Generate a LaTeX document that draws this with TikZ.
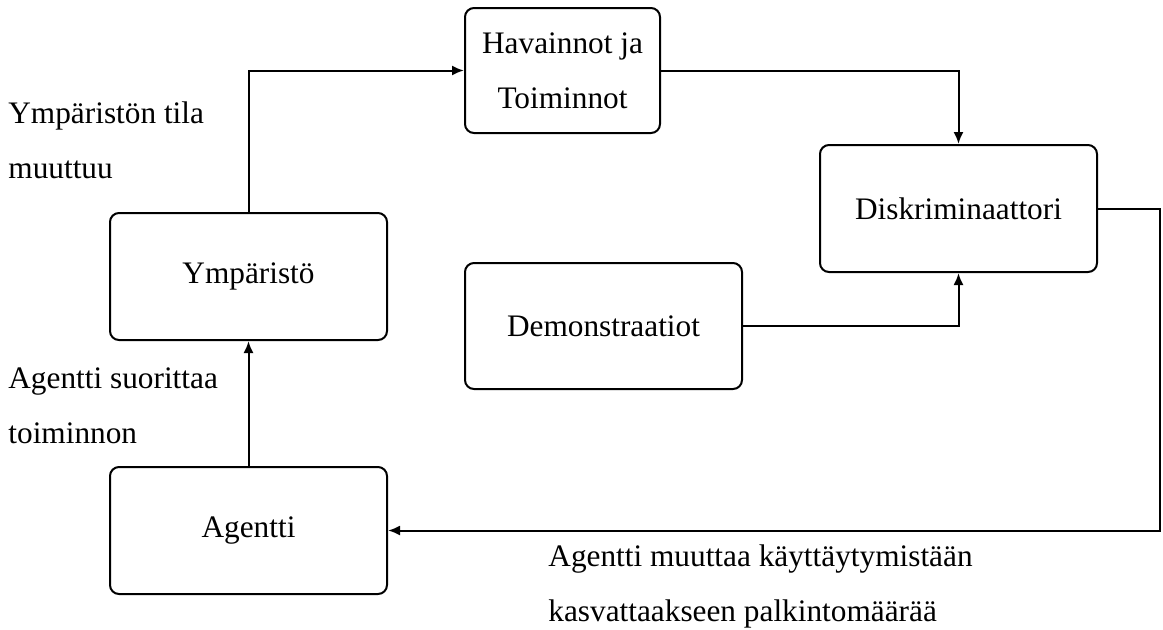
\documentclass[tikz,border=0pt]{standalone}
\usepackage{fontspec}
\setmainfont{Liberation Serif}
\usetikzlibrary{arrows.meta}
\tikzset{
  block/.style={draw, line width=1pt, rounded corners=4.5pt, align=center,
    inner sep=0pt},
  flow/.style={line width=1pt, -{Latex[length=6pt,width=5pt]}},
  note/.style={align=left, inner sep=0pt, anchor=base west},
  every node/.style={font=\fontsize{15.65}{27.5}\selectfont},
}
\begin{document}
\begin{tikzpicture}[x=0.5pt, y=-0.5pt]
  \useasboundingbox (0,0) rectangle (1163,629);

  % boxes
  \node[block, minimum width=97.5pt, minimum height=62.5pt] (hav) at (562.5,70.5) {Havainnot ja\\Toiminnot};
  \node[block, minimum width=138.5pt, minimum height=63.5pt] (disk) at (958.5,208.5) {Diskriminaattori};
  \node[block, minimum width=138.5pt, minimum height=63.5pt] (ymp) at (248.5,276.5) {Ympäristö};
  \node[block, minimum width=138.5pt, minimum height=63pt] (demo) at (603.5,326) {Demonstraatiot};
  \node[block, minimum width=138.5pt, minimum height=63.5pt] (agent) at (248.5,530.5) {Agentti};

  % connectors
  \coordinate (turn) at (1160,208.5);
  \draw[flow] (ymp.north) |- (hav.west);
  \draw[flow] (hav.east) -| (disk.north);
  \draw[flow] (demo.east) -| (disk.south);
  \draw[flow] (disk.east) -- (turn) |- (agent.east);
  \draw[flow] (agent.north) -- (ymp.south);

  % labels (base anchor sits on the last line)
  \node[note] (envlabel) at (8,178) {Ympäristön tila\\muuttuu};
  \node[note] (actlabel) at (8,443) {Agentti suorittaa\\toiminnon};
  \node[note] (rewlabel) at (548,621) {Agentti muuttaa käyttäytymistään\\kasvattaakseen palkintomäärää};
\end{tikzpicture}
\end{document}
